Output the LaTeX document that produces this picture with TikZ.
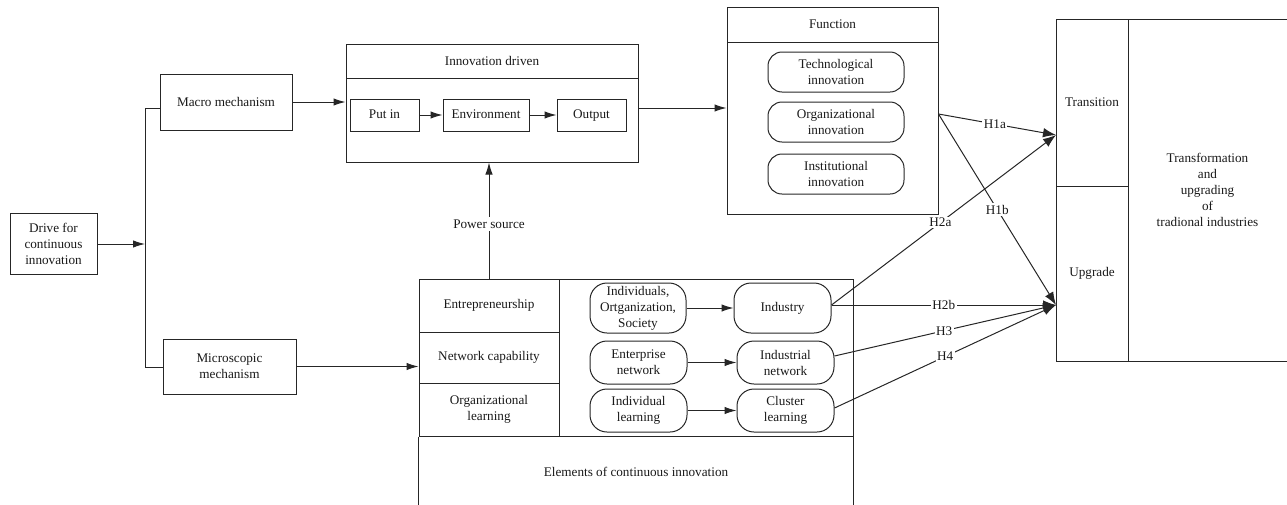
\documentclass[tikz,border=0pt]{standalone}
\usepackage{fontspec}
\setmainfont{Liberation Serif}
\usetikzlibrary{arrows.meta}
\tikzset{
  every node/.style={font=\fontsize{13.2}{16}\selectfont, align=center, inner sep=0pt, text=black!90},
  box/.style={draw=black!85, line width=1pt},
  rbox/.style={draw=black!85, line width=1pt, rounded corners=#1},
  rbox/.default=14pt,
  oneline/.style={text height=9pt, text depth=3pt},
  ln/.style={draw=black!85, line width=1pt},
  arr/.style={ln, -{Latex[length=12pt,width=7.5pt]}},
  harr/.style={ln, -{Latex[length=13pt,width=9.5pt]}},
  lab/.style={fill=white, inner sep=1.5pt}
}
\begin{document}
\begin{tikzpicture}[x=1pt,y=-1pt]
\useasboundingbox (0,0) rectangle (1287,504);

% left side
\node[box, minimum width=87, minimum height=61] (drive) at (53.5,243.5) {Drive for\\continuous\\innovation};
\node[box, minimum width=132, minimum height=56] (macro) at (226,102) {Macro mechanism};
\node[box, minimum width=133, minimum height=55] (micro) at (229.5,366.5) {Microscopic\\mechanism};
\coordinate (j) at (145,244);
\coordinate (jt) at (145,108);
\coordinate (jb) at (145,367);
\draw[arr] (drive.east |- j) -- (j);
\draw[ln] (jt -| macro.west) -- (jt) -- (jb) -- (jb -| micro.west);

% innovation driven
\node[box, minimum width=292, minimum height=118] (innov) at (492,103) {};
\node[box, minimum width=292, minimum height=34] (innovhead) at (492,61) {Innovation driven};
\node[box, oneline, minimum width=69, minimum height=32] (putin) at (384.5,115) {Put in};
\node[box, oneline, minimum width=86, minimum height=32] (env) at (486,115) {Environment};
\node[box, oneline, minimum width=69, minimum height=32] (outp) at (591.5,115) {Output};
\draw[arr] (putin) -- (env);
\draw[arr] (env) -- (outp);
\draw[arr] (macro.east) -- (macro.east -| innov.west);

% function
\node[box, minimum width=211, minimum height=207] (func) at (832.5,110.5) {};
\node[box, minimum width=211, minimum height=35] (funchead) at (832.5,24.5) {Function};
\node[rbox, minimum width=136, minimum height=40] (tech) at (836,72) {Technological\\innovation};
\node[rbox, minimum width=136, minimum height=40] (orgi) at (836,122) {Organizational\\innovation};
\node[rbox, minimum width=136, minimum height=40] (inst) at (836,174) {Institutional\\innovation};
\coordinate (fin) at (727,108);
\draw[arr] (fin -| innov.east) -- (fin -| func.west);

% right block
\node[box, minimum width=72, minimum height=167] (trans) at (1092,102.5) {Transition};
\node[box, minimum width=72, minimum height=175] (upg) at (1092,273.5) {Upgrade};
\node[box, minimum width=159, minimum height=342] (tf) at (1207.5,190) {Transformation\\and\\upgrading\\of\\tradional industries};

% bottom block
\node[box, minimum width=140, minimum height=53] (entr) at (489,305.5) {Entrepreneurship};
\node[box, minimum width=140, minimum height=51] (netc) at (489,357.5) {Network capability};
\node[box, minimum width=140, minimum height=53] (orgl) at (489,409.5) {Organizational\\learning};
\node[box, minimum width=294, minimum height=157] (area) at (706,357.5) {};
\draw[ln] (orgl.south west) -- ++(0,70);
\draw[ln] (area.south east) -- ++(0,70);
\node (elem) at (636,472) {Elements of continuous innovation};

\node[rbox=17pt, minimum width=96, minimum height=50] (indiv) at (638,308) {Individuals,\\Ortganization,\\Society};
\node[rbox=17pt, minimum width=97, minimum height=50] (industry) at (782.5,308) {Industry};
\node[rbox=17pt, minimum width=97, minimum height=43] (entnet) at (638.5,362.5) {Enterprise\\network};
\node[rbox=17pt, minimum width=97, minimum height=43] (indnet) at (785.5,362.5) {Industrial\\network};
\node[rbox=17pt, minimum width=97, minimum height=43] (indl) at (638.5,410.5) {Individual\\learning};
\node[rbox=17pt, minimum width=97, minimum height=43] (clus) at (785.5,410.5) {Cluster\\learning};
\draw[arr] (indiv) -- (industry);
\draw[arr] (entnet) -- (indnet);
\draw[arr] (indl) -- (clus);
\draw[arr] (micro.east) -- (micro.east -| entr.west);

% power source
\draw[arr] (entr.north) -- (entr.north |- innov.south) node[lab, pos=0.47, inner sep=3pt] {Power source};

% hypotheses
\coordinate (tA) at (1056,135);
\coordinate (tB) at (1056,305);
\draw[harr] ([yshift=-3.5pt]func.east) -- (tA) node[lab, pos=0.48] {H1a};
\draw[harr] ([yshift=-3.5pt]func.east) -- (tB) node[lab, pos=0.5] {H1b};
\draw[harr] ([yshift=3pt]industry.east) -- (tA) node[lab, pos=0.485] {H2a};
\draw[harr] ([yshift=3pt]industry.east) -- (tB) node[lab, pos=0.5] {H2b};
\draw[harr] ([yshift=6.5pt]indnet.east) -- (tB) node[lab, pos=0.495] {H3};
\draw[harr] ([yshift=2.5pt]clus.east) -- (tB) node[lab, pos=0.5] {H4};
\end{tikzpicture}
\end{document}
